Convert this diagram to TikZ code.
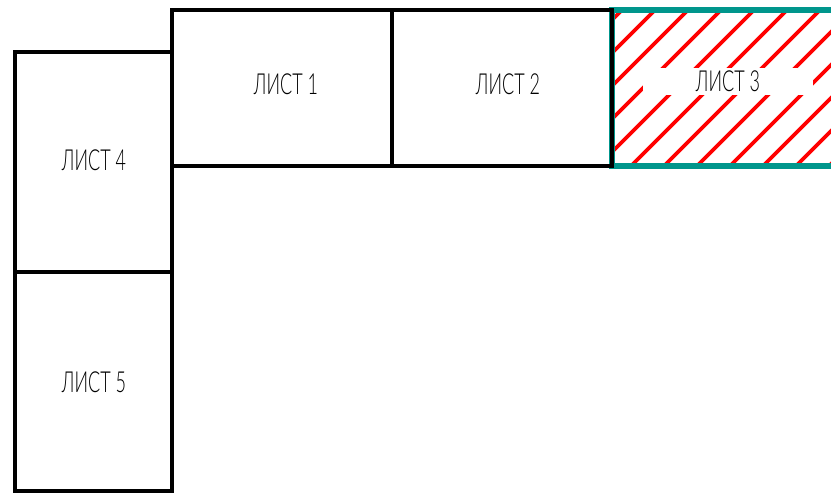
\documentclass[tikz,border=0pt]{standalone}
\usepackage{fontspec}
\setmainfont{Lato Light}[FakeStretch=0.62]
\definecolor{tealb}{RGB}{0,150,140}
\begin{document}
\begin{tikzpicture}[x=1pt,y=-1pt,
  sheet/.style={draw=black,line width=4pt,rectangle,inner sep=0pt,outer sep=0pt},
  hatchline/.style={draw=red,line width=3.6pt},
  sheetlabel/.style={fill=white,inner sep=0pt,font=\fontsize{29}{29}\selectfont}]
\useasboundingbox (0,0) rectangle (831,494);
% hatched sheet 3 (fill first)
\begin{scope}
  \clip (612,10) rectangle (850,166);
  \foreach \k in {-2,...,11}{
    \pgfmathsetmacro{\c}{665+33*\k}
    \draw[hatchline] (\c-0,0) -- (\c-176,176);
  }
\end{scope}
\node[sheetlabel,minimum width=170pt,minimum height=27pt] (l3) at (728,81.5) {ЛИСТ 3};
\node[sheet,draw=tealb,line width=5.5pt,minimum width=238pt,minimum height=156pt] (s3) at (731,88) {};
% other sheets
\node[sheet,minimum width=220pt,minimum height=156pt] (s1) at (282,88) {};
\node[sheet,minimum width=220pt,minimum height=156pt] (s2) at (502,88) {};
\node[sheet,minimum width=157pt,minimum height=220pt] (s4) at (93.5,162) {};
\node[sheet,minimum width=157pt,minimum height=219pt] (s5) at (93.5,381.5) {};
\node[sheetlabel,fill=none] (l1) at (286,84) {ЛИСТ 1};
\node[sheetlabel,fill=none] (l2) at (508,84) {ЛИСТ 2};
\node[sheetlabel,fill=none] (l4) at (94,160) {ЛИСТ 4};
\node[sheetlabel,fill=none] (l5) at (94,382) {ЛИСТ 5};
\end{tikzpicture}
\end{document}
